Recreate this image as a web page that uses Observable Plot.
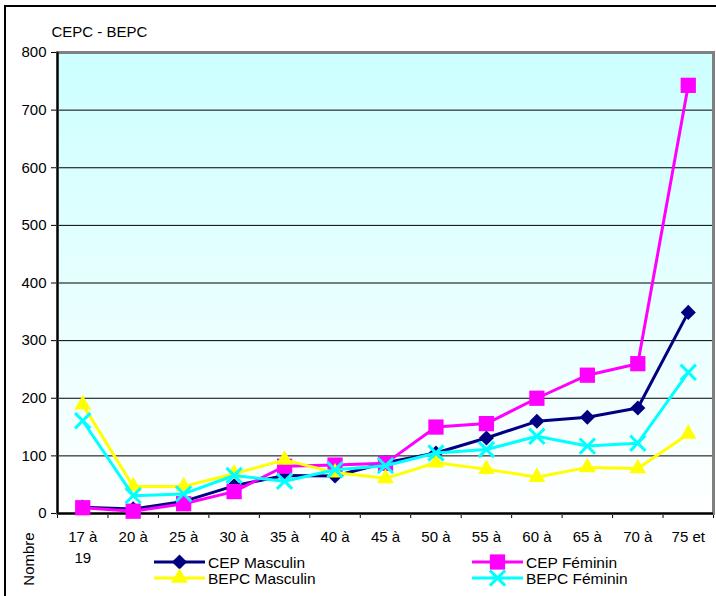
<!DOCTYPE html>
<html><head><meta charset="utf-8">
<script src="https://cdn.jsdelivr.net/npm/d3@7"></script>
<script src="https://cdn.jsdelivr.net/npm/@observablehq/plot@0.6"></script>
<style>
body{margin:0;background:#fff;overflow:hidden}
#wrap{position:relative;width:716px;height:596px;overflow:hidden;font-family:"Liberation Sans",Arial,sans-serif}
#wrap svg{position:absolute;left:0;top:0}
</style>
</head><body><div id="wrap"></div>
<script>
const ageLine1 = ["17 à","20 à","25 à","30 à","35 à","40 à","45 à","50 à","55 à","60 à","65 à","70 à","75 et"];
const ageLine2 = ["19","24","29","34","39","44","49","54","59","64","69","74","+"];
const cepMasculin  = [11, 8, 21, 48, 66, 65, 88, 105, 131, 160, 167, 183, 349];
const cepFeminin   = [10, 4, 17, 38, 82, 84, 87, 150, 156, 200, 240, 260, 743];
const bepcMasculin = [189, 47, 47, 69, 93, 71, 61, 88, 77, 63, 80, 78, 138];
const bepcFeminin  = [161, 31, 34, 66, 56, 76, 83, 105, 111, 134, 117, 122, 245];
const seriesNames  = ["CEP Masculin","CEP Féminin","BEPC Masculin","BEPC Féminin"];
const title = "CEPC - BEPC";
const yLabel = "Nombre";

const series = [
  {name: seriesNames[0], values: cepMasculin,  color: "#000080", symbol: "diamond2", type: d3.symbolDiamond2, r: 6.8, filled: true},
  {name: seriesNames[1], values: cepFeminin,   color: "#FF00FF", symbol: "square",   type: d3.symbolSquare,   r: 8.6, filled: true},
  {name: seriesNames[2], values: bepcMasculin, color: "#FFFF00", symbol: "triangle", type: d3.symbolTriangle, r: 6.2, filled: true},
  {name: seriesNames[3], values: bepcFeminin,  color: "#00FFFF", symbol: "times",    type: d3.symbolTimes,    r: 7.0, filled: false}
];
const rows = series.flatMap(s => s.values.map((v, i) => ({series: s.name, i, v})));
const n = ageLine1.length;
const FONT = "Liberation Sans, Arial, sans-serif";

const seriesMarks = series.flatMap(s => {
  const data = rows.filter(d => d.series === s.name);
  return [
    Plot.line(data, {x: d => d.i + 0.5, y: "v", stroke: s.color, strokeWidth: 3}),
    s.filled
      ? Plot.dot(data, {x: d => d.i + 0.5, y: "v", symbol: s.symbol, r: s.r, fill: s.color, stroke: "none"})
      : Plot.dot(data, {x: d => d.i + 0.5, y: "v", symbol: s.symbol, r: s.r, fill: "none", stroke: s.color, strokeWidth: 3})
  ];
});

const chart = Plot.plot({
  width: 716, height: 596,
  marginLeft: 57, marginRight: 3, marginTop: 52, marginBottom: 83,
  style: {fontFamily: FONT, fontSize: "15px", color: "black", background: "transparent", overflow: "visible"},
  x: {type: "linear", domain: [0, n], ticks: n, tickFormat: () => "", tickSize: 5, label: null},
  y: {domain: [0, 800], ticks: 8, tickSize: 6, tickPadding: 5, label: null, tickFormat: d => String(d)},
  marks: [
    Plot.frame({fill: "url(#bgGrad)"}),
    Plot.ruleY(d3.range(100, 800, 100), {stroke: "black", strokeWidth: 1}),
    Plot.frame({stroke: "#808080", strokeWidth: 3}),
    Plot.ruleX([0], {stroke: "black", strokeWidth: 2}),
    Plot.ruleY([0], {stroke: "black", strokeWidth: 2}),
    ...seriesMarks,
    Plot.text(ageLine1, {x: (d, i) => i + 0.5, text: d => d, frameAnchor: "bottom", lineAnchor: "bottom", dy: 28, fontSize: 15}),
    Plot.text(ageLine2, {x: (d, i) => i + 0.5, text: d => d, frameAnchor: "bottom", lineAnchor: "bottom", dy: 49, fontSize: 15}),
    Plot.text([title], {text: d => d, frameAnchor: "top-left", textAnchor: "start", lineAnchor: "bottom", dx: -6, dy: -16, fontSize: 15})
  ]
});

// gradient defs
const NS = "http://www.w3.org/2000/svg";
const defs = document.createElementNS(NS, "defs");
const grad = document.createElementNS(NS, "linearGradient");
grad.setAttribute("id", "bgGrad");
grad.setAttribute("x1", "0"); grad.setAttribute("y1", "0");
grad.setAttribute("x2", "0"); grad.setAttribute("y2", "1");
[["0", "#ccffff"], ["1", "#ffffff"]].forEach(([o, c]) => {
  const st = document.createElementNS(NS, "stop");
  st.setAttribute("offset", o); st.setAttribute("stop-color", c);
  grad.appendChild(st);
});
defs.appendChild(grad);
chart.insertBefore(defs, chart.firstChild);

const wrap = document.getElementById("wrap");
wrap.appendChild(chart);

// overlay: outer frame, y label, legend
const ov = d3.select(wrap).append("svg")
  .attr("width", 716).attr("height", 596)
  .style("font-family", FONT);
ov.append("path").attr("d", "M5,700V6H800").attr("fill", "none").attr("stroke", "black").attr("stroke-width", 2);
ov.append("text").attr("transform", "translate(34,559) rotate(-90)")
  .attr("text-anchor", "middle").attr("font-size", 15).text(yLabel);
ov.append("rect").attr("x", 100).attr("y", 552).attr("width", 620).attr("height", 50).attr("fill", "white");
const legX = [154, 472], legY = [562, 578];
series.forEach((s, k) => {
  const x0 = legX[k % 2], y0 = legY[Math.floor(k / 2)];
  const g = ov.append("g");
  g.append("line").attr("x1", x0).attr("x2", x0 + 51).attr("y1", y0).attr("y2", y0)
    .attr("stroke", s.color).attr("stroke-width", 3);
  const path = d3.symbol().type(s.type).size(Math.PI * s.r * s.r)();
  const p = g.append("path").attr("d", path).attr("transform", `translate(${x0 + 25.5},${y0})`);
  if (s.filled) p.attr("fill", s.color);
  else p.attr("fill", "none").attr("stroke", s.color).attr("stroke-width", 3);
  g.append("text").attr("x", x0 + 54).attr("y", y0 + 5.5).attr("font-size", 15.5).text(s.name);
});
</script>
</body></html>
